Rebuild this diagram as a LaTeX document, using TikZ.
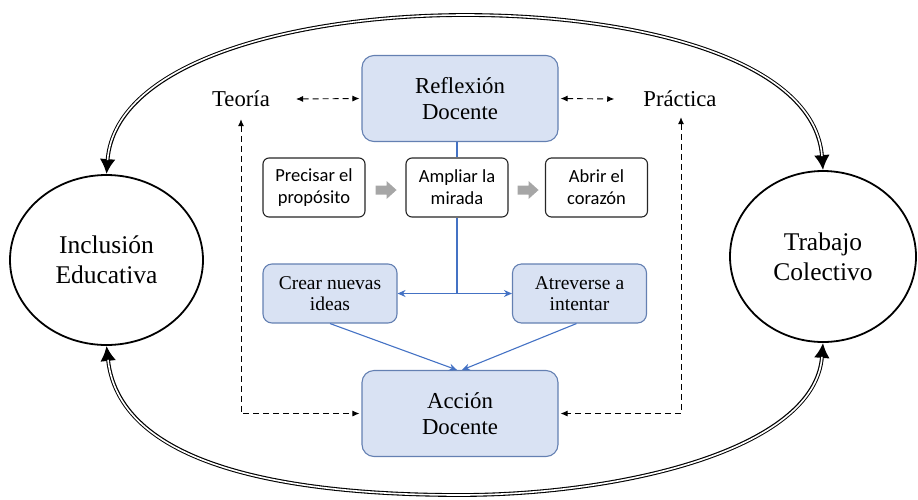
\documentclass[tikz,border=0pt]{standalone}
\usepackage{fontspec}
\setmainfont{Liberation Serif}
\newfontfamily\timesf{Liberation Serif}
\newfontfamily\calibri{Carlito}
\usetikzlibrary{arrows.meta,shapes.geometric,calc}
\definecolor{boxfill}{RGB}{217,226,243}
\definecolor{boxline}{RGB}{100,128,178}
\definecolor{linkblue}{RGB}{68,114,196}
\definecolor{arrowgray}{RGB}{166,166,166}
\begin{document}
\begin{tikzpicture}[x=1pt,y=-1pt,
  bluebox/.style={draw=boxline, fill=boxfill, line width=1.1pt, rounded corners=12pt,
    minimum width=196pt, minimum height=86pt, align=center,
    font=\timesf\fontsize{22.8}{26}\selectfont, inner sep=0pt},
  smallblue/.style={draw=boxline, fill=boxfill, line width=1.1pt, rounded corners=9pt,
    minimum width=134pt, minimum height=59pt, align=center,
    font=\timesf\fontsize{19.5}{21.5}\selectfont, inner sep=0pt},
  sansbox/.style={draw=black!85, fill=white, line width=1.1pt, rounded corners=6pt,
    minimum width=102pt, minimum height=59pt, align=center,
    font=\calibri\fontsize{18.5}{22}\selectfont, inner sep=0pt},
  circ/.style={ellipse, draw=black, line width=1.8pt, align=center,
    font=\timesf\fontsize{25.5}{30}\selectfont, inner sep=0pt},
  plainlabel/.style={font=\timesf\fontsize{22.7}{26}\selectfont, inner sep=0pt},
  dasharrow/.style={draw=black, line width=0.9pt, dash pattern=on 6pt off 4pt,
    {Latex[length=7pt,width=6pt]}-{Latex[length=7pt,width=6pt]}},
  bluel/.style={draw=linkblue, line width=1.1pt},
  bluetip/.style={bluel, -{Stealth[length=8pt,width=7pt]}},
  dblouter/.style={draw=black, line width=3.8pt,
    {Latex[length=15pt,width=16pt]}-{Latex[length=15pt,width=16pt]}},
  dblinner/.style={draw=white, line width=1.6pt, shorten <=14pt, shorten >=14pt}
]
\useasboundingbox (0,0) rectangle (918,499);

% nodes
\node[bluebox] (refl) at (460,98.5) {Reflexión\\Docente};
\node[bluebox] (acc) at (460,413.5) {Acción\\Docente};
\node[plainlabel] (teoria) at (241,99) {Teoría};
\node[plainlabel] (prac) at (680,99) {Práctica};
\node[sansbox] (prec) at (314,187.5) {Precisar el\\propósito};
\node[sansbox] (ampl) at (457,187.5) {Ampliar la\\mirada};
\node[sansbox] (abrir) at (596.5,187.5) {Abrir el\\corazón};
\node[smallblue] (crear) at (330,293.5) {Crear nuevas\\ideas};
\node[smallblue] (atrev) at (579.5,293.5) {Atreverse a\\intentar};
\node[circ, minimum width=193pt, minimum height=170pt] (incl) at (106.5,260) {Inclusión\\Educativa};
\node[circ, minimum width=186pt, minimum height=171pt] (trab) at (823,256.5) {Trabajo\\Colectivo};

% gray block arrows
\fill[arrowgray] ($(prec.east)+(10,-2)$) -- ++(11,0) -- ++(0,-4.5) -- ++(10,9) -- ++(-10,9) -- ++(0,-4.5) -- ++(-11,0) -- cycle;
\fill[arrowgray] ($(ampl.east)+(9,-2)$) -- ++(11,0) -- ++(0,-4.5) -- ++(10,9) -- ++(-10,9) -- ++(0,-4.5) -- ++(-11,0) -- cycle;

% blue connectors
\draw[bluel] (refl.south -| ampl.north) -- (ampl.north);
\coordinate (junc) at (ampl.south |- crear.east);
\draw[bluel] (ampl.south) -- (junc);
\draw[bluetip] (junc) -- (crear.east);
\draw[bluetip] (junc) -- (atrev.west);
\draw[bluetip] (crear.south) -- ([xshift=-3pt]acc.north);
\draw[bluetip] ([xshift=-3pt]atrev.south) -- ([xshift=2pt]acc.north);

% dashed connectors
\draw[dasharrow] ([xshift=26pt]teoria.east) -- ([xshift=-2pt]refl.west);
\draw[dasharrow] ([xshift=2pt]refl.east) -- ([xshift=-29pt]prac.west);
\draw[dasharrow] ([yshift=-12pt]teoria.south) |- ([xshift=-2pt]acc.west);
\draw[dasharrow] ([xshift=1pt,yshift=-10pt]prac.south) |- ([xshift=2pt]acc.east);

% big double arcs
\foreach \st in {dblouter,dblinner}{
\draw[\st] (incl.north) .. controls (115,60) and (300,15) .. (465,15)
  .. controls (640,15) and (815,60) .. (trab.north);
\draw[\st] (incl.south) .. controls (120,470) and (300,495) .. (460,495)
  .. controls (620,495) and (815,450) .. (trab.south);
}
\end{tikzpicture}
\end{document}
